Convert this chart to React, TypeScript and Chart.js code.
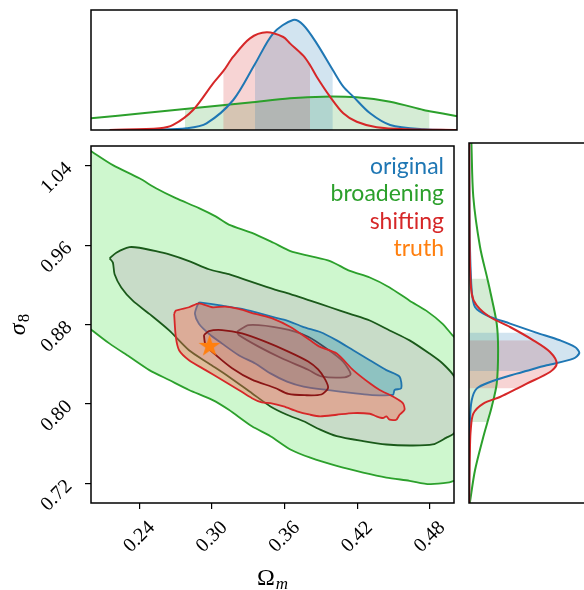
import React, { useEffect, useLayoutEffect, useRef } from "react";
import { Chart, registerables } from "chart.js";

Chart.register(...registerables);

// ---------------- tick labels ----------------
const xTickValues = [0.24, 0.3, 0.36, 0.42, 0.48];
const yTickValues = [0.72, 0.8, 0.88, 0.96, 1.04];

// ---------------- legend ----------------
const legendLabels = ["original", "broadening", "shifting", "truth"];
const legendColors = ["#1f77b4", "#2ca02c", "#d62728", "#ff7f0e"];

// ---------------- truth ----------------
const truthOmega = [0.298];
const truthSigma = [0.858];

// ---------------- 2D contours (Omega_m, sigma_8) ----------------
const green95Omega = [0.19, 0.2011, 0.2181, 0.24, 0.2537, 0.2701, 0.2892, 0.303, 0.3139, 0.333, 0.3508, 0.3648, 0.3812, 0.3976, 0.414, 0.4304, 0.4468, 0.4633, 0.477, 0.4906, 0.4988, 0.51, 0.515, 0.51, 0.5002, 0.4961, 0.4797, 0.4633, 0.4441, 0.4249, 0.4031, 0.3812, 0.3648, 0.3483, 0.333, 0.3139, 0.3002, 0.281, 0.2646, 0.2482, 0.2318, 0.2154, 0.2011, 0.19];
const green95Sigma = [1.063, 1.054, 1.0407, 1.0274, 1.0174, 1.0074, 0.9974, 0.989, 0.9807, 0.9724, 0.9624, 0.954, 0.949, 0.944, 0.934, 0.9274, 0.9174, 0.904, 0.894, 0.8807, 0.869, 0.855, 0.8, 0.722, 0.7224, 0.7207, 0.719, 0.7224, 0.7257, 0.7307, 0.7374, 0.7457, 0.754, 0.7674, 0.7774, 0.794, 0.804, 0.814, 0.824, 0.834, 0.8474, 0.8607, 0.874, 0.885];

const green68Omega = [0.2154, 0.2209, 0.2318, 0.24, 0.2537, 0.2646, 0.281, 0.2974, 0.3139, 0.3303, 0.3508, 0.3648, 0.3812, 0.3976, 0.414, 0.4304, 0.4468, 0.4633, 0.4797, 0.4906, 0.5002, 0.508, 0.5002, 0.4934, 0.4824, 0.4633, 0.4441, 0.4249, 0.4031, 0.3894, 0.3757, 0.362, 0.3483, 0.333, 0.3139, 0.2974, 0.281, 0.2646, 0.2482, 0.2345, 0.225, 0.2195, 0.2181];
const green68Sigma = [0.9467, 0.9524, 0.958, 0.9574, 0.954, 0.9507, 0.944, 0.9357, 0.9307, 0.924, 0.9157, 0.9107, 0.904, 0.8974, 0.8907, 0.884, 0.874, 0.864, 0.8507, 0.8407, 0.8274, 0.8, 0.7707, 0.7657, 0.759, 0.758, 0.759, 0.7624, 0.7674, 0.774, 0.7824, 0.789, 0.7974, 0.8107, 0.8274, 0.8407, 0.854, 0.874, 0.8907, 0.904, 0.9174, 0.9307, 0.9424];

const blue95Omega = [0.2894, 0.3084, 0.3248, 0.3358, 0.3508, 0.362, 0.3757, 0.3894, 0.4031, 0.4167, 0.4304, 0.4441, 0.455, 0.4564, 0.4509, 0.4495, 0.4304, 0.4167, 0.395, 0.3757, 0.362, 0.3483, 0.3358, 0.3221, 0.3084, 0.2974, 0.2892, 0.2859, 0.2878];
const blue95Sigma = [0.9024, 0.899, 0.8957, 0.8924, 0.8874, 0.884, 0.8774, 0.8724, 0.864, 0.854, 0.844, 0.834, 0.8274, 0.8157, 0.814, 0.809, 0.809, 0.8107, 0.814, 0.8174, 0.8224, 0.8307, 0.8407, 0.849, 0.8607, 0.8707, 0.8807, 0.8907, 0.899];

const blue68Omega = [0.3207, 0.3303, 0.3576, 0.3795, 0.3959, 0.4082, 0.4146, 0.4096, 0.3904, 0.3795, 0.3576, 0.3385, 0.3221];
const blue68Sigma = [0.8727, 0.8794, 0.876, 0.8677, 0.8547, 0.8427, 0.83, 0.8267, 0.8277, 0.8344, 0.846, 0.8577, 0.8694];

const red95Omega = [0.2687, 0.2701, 0.281, 0.2892, 0.3001, 0.3111, 0.3221, 0.3358, 0.3508, 0.3648, 0.3812, 0.3894, 0.4031, 0.4167, 0.4304, 0.4386, 0.4495, 0.4577, 0.4591, 0.455, 0.4523, 0.4468, 0.4441, 0.4413, 0.4359, 0.4304, 0.4167, 0.4031, 0.3894, 0.3812, 0.3702, 0.3592, 0.3483, 0.3412, 0.333, 0.3221, 0.3084, 0.2947, 0.281, 0.2728, 0.2701];
const red95Sigma = [0.8907, 0.894, 0.8974, 0.9014, 0.8974, 0.898, 0.8957, 0.8907, 0.8857, 0.8774, 0.864, 0.8574, 0.8507, 0.834, 0.8207, 0.814, 0.8074, 0.8007, 0.794, 0.789, 0.784, 0.784, 0.7874, 0.7857, 0.7874, 0.79, 0.7907, 0.789, 0.7874, 0.789, 0.7924, 0.7974, 0.8007, 0.8014, 0.8057, 0.814, 0.824, 0.834, 0.844, 0.854, 0.8674];

const red68Omega = [0.2933, 0.2974, 0.3083, 0.3248, 0.344, 0.3631, 0.3795, 0.3877, 0.3935, 0.3959, 0.3904, 0.3768, 0.3631, 0.3522, 0.333, 0.3166, 0.303, 0.2947];
const red68Sigma = [0.8694, 0.8734, 0.8744, 0.871, 0.8627, 0.8527, 0.8427, 0.8347, 0.8247, 0.816, 0.8094, 0.8087, 0.81, 0.816, 0.8244, 0.836, 0.8494, 0.8594];

// ---------------- top marginal: Omega_m density (relative) ----------------
const topBlueOmega = [0.2154, 0.2564, 0.2783, 0.2947, 0.3166, 0.3344, 0.3494, 0.3656, 0.374, 0.385, 0.3982, 0.4068, 0.415, 0.4288, 0.4452, 0.4725, 0.5];
const topBlueDens = [0, 0.003, 0.014, 0.056, 0.25, 0.55, 0.806, 0.917, 0.875, 0.722, 0.5, 0.361, 0.278, 0.139, 0.042, 0.006, 0];
const topRedOmega = [0.2154, 0.2564, 0.2673, 0.2837, 0.3001, 0.3084, 0.3166, 0.3303, 0.344, 0.3576, 0.3631, 0.374, 0.3796, 0.385, 0.3959, 0.4068, 0.4178, 0.4342, 0.4589, 0.5];
const topRedDens = [0, 0.014, 0.042, 0.167, 0.389, 0.49, 0.611, 0.764, 0.814, 0.775, 0.722, 0.62, 0.54, 0.444, 0.278, 0.139, 0.069, 0.023, 0.006, 0];
const topGreenOmega = [0.2, 0.2441, 0.2769, 0.2892, 0.3303, 0.3631, 0.3904, 0.4178, 0.4452, 0.4725, 0.4775, 0.4991, 0.5];
const topGreenDens = [0.097, 0.142, 0.175, 0.187, 0.229, 0.264, 0.278, 0.272, 0.236, 0.167, 0.157, 0.117, 0.115];
// 68% intervals on Omega_m
const topBlueBand = [0.3344, 0.3982];
const topRedBand = [0.3084, 0.3796];
const topGreenBand = [0.2769, 0.4775];

// ---------------- right marginal: sigma_8 density (relative) ----------------
const rightBlueSigma = [1.06, 1.0, 0.956, 0.9127, 0.896, 0.8877, 0.8794, 0.8704, 0.8627, 0.856, 0.85, 0.8444, 0.8377, 0.832, 0.8294, 0.821, 0.8144, 0.8027, 0.7827, 0.74, 0.7];
const rightBlueDens = [0.002, 0.004, 0.008, 0.0225, 0.05, 0.1475, 0.342, 0.56, 0.758, 0.883, 0.919, 0.869, 0.6475, 0.475, 0.3975, 0.175, 0.064, 0.0225, 0.008, 0.003, 0.002];
const rightRedSigma = [1.06, 0.98, 0.9394, 0.9094, 0.8977, 0.886, 0.876, 0.8627, 0.851, 0.8394, 0.831, 0.8194, 0.8144, 0.806, 0.7994, 0.7894, 0.7727, 0.756, 0.72, 0.7];
const rightRedDens = [0.002, 0.004, 0.008, 0.0225, 0.064, 0.175, 0.342, 0.536, 0.675, 0.731, 0.675, 0.481, 0.4, 0.258, 0.119, 0.036, 0.014, 0.008, 0.003, 0.002];
const rightGreenSigma = [1.06, 1.006, 0.956, 0.9244, 0.9127, 0.8794, 0.8527, 0.8194, 0.796, 0.781, 0.766, 0.7327, 0.701, 0.7];
const rightGreenDens = [0.02, 0.036, 0.092, 0.153, 0.175, 0.231, 0.2425, 0.231, 0.189, 0.154, 0.119, 0.05, 0.008, 0.007];
// 68% intervals on sigma_8
const rightBlueBand = [0.832, 0.8704];
const rightRedBand = [0.8144, 0.8627];
const rightGreenBand = [0.781, 0.9244];

// ---------------- fonts ----------------
const TICK_FONT = '20px "Liberation Serif"';
const LEGEND_FONT = '23px Lato';

type P = { x: number; y: number };
const closed = (xs: number[], ys: number[]): P[] => {
  const pts = xs.map((x, i) => ({ x, y: ys[i] }));
  pts.push({ ...pts[0] });
  return pts;
};
const pts = (xs: number[], ys: number[]): P[] => xs.map((x, i) => ({ x, y: ys[i] }));
const within = (p: P[], key: "x" | "y", band: number[]) =>
  p.filter((q) => q[key] >= band[0] - 1e-9 && q[key] <= band[1] + 1e-9);

function makeStar(color: string, R: number) {
  const c = document.createElement("canvas");
  const s = Math.ceil(R * 2 + 2);
  c.width = s;
  c.height = s;
  const g = c.getContext("2d")!;
  g.fillStyle = color;
  g.beginPath();
  for (let i = 0; i < 10; i++) {
    const r = i % 2 === 0 ? R : R * 0.382;
    const a = -Math.PI / 2 + (i * Math.PI) / 5;
    g.lineTo(s / 2 + r * Math.cos(a), s / 2 + r * Math.sin(a));
  }
  g.closePath();
  g.fill();
  return c;
}

const framePlugin = {
  id: "frame",
  afterDraw(chart: any) {
    const { ctx, chartArea: a } = chart;
    ctx.save();
    ctx.strokeStyle = "#000";
    ctx.lineWidth = 1.5;
    ctx.strokeRect(a.left, a.top, a.right - a.left, a.bottom - a.top);
    ctx.restore();
  },
};

const mainDecor = {
  id: "mainDecor",
  afterDraw(chart: any) {
    const { ctx, chartArea: a, scales } = chart;
    ctx.save();
    ctx.fillStyle = "#000";
    ctx.font = TICK_FONT;
    ctx.textAlign = "center";
    ctx.textBaseline = "middle";
    xTickValues.forEach((v) => {
      const px = scales.x.getPixelForValue(v);
      ctx.save();
      ctx.translate(px, a.bottom + 34);
      ctx.rotate(-Math.PI / 4);
      ctx.fillText(v.toFixed(2), 0, 0);
      ctx.restore();
    });
    ctx.textAlign = "right";
    yTickValues.forEach((v) => {
      const py = scales.y.getPixelForValue(v);
      ctx.save();
      ctx.translate(a.left - 22, py);
      ctx.rotate(-Math.PI / 4);
      ctx.fillText(v.toFixed(2), 0, 0);
      ctx.restore();
    });
    // x title: Omega_m
    ctx.textAlign = "left";
    ctx.textBaseline = "alphabetic";
    ctx.font = '24px "Liberation Serif"';
    const w1 = ctx.measureText("Ω").width;
    ctx.font = 'italic 17px "Liberation Serif"';
    const w2 = ctx.measureText("m").width;
    const cx = (a.left + a.right) / 2;
    const x0 = cx - (w1 + w2 + 1) / 2;
    const base = a.bottom + 82;
    ctx.font = '24px "Liberation Serif"';
    ctx.fillText("Ω", x0, base);
    ctx.font = 'italic 17px "Liberation Serif"';
    ctx.fillText("m", x0 + w1 + 1, base + 4);
    // y title: sigma_8
    ctx.save();
    const cy = (a.top + a.bottom) / 2;
    ctx.translate(a.left - 66, cy);
    ctx.rotate(-Math.PI / 2);
    ctx.font = 'italic 24px "Liberation Serif"';
    const s1 = ctx.measureText("σ").width;
    ctx.font = '17px "Liberation Serif"';
    const s2 = ctx.measureText("8").width;
    const sx0 = -(s1 + s2 + 1) / 2;
    ctx.font = 'italic 24px "Liberation Serif"';
    ctx.fillText("σ", sx0, 0);
    ctx.font = '17px "Liberation Serif"';
    ctx.fillText("8", sx0 + s1 + 1, 4);
    ctx.restore();
    // legend
    ctx.font = LEGEND_FONT;
    ctx.textAlign = "right";
    ctx.textBaseline = "alphabetic";
    legendLabels.forEach((t, i) => {
      ctx.fillStyle = legendColors[i];
      ctx.fillText(t, a.right - 10, a.top + 28 + i * 27.3);
    });
    ctx.restore();
  },
};

function contour(data: P[], fill: string, edge: string, order: number) {
  return {
    data,
    fill: "shape",
    backgroundColor: fill,
    borderColor: edge,
    borderWidth: 1.8,
    pointRadius: 0,
    tension: 0.25,
    order,
  };
}

export default function App() {
  const topRef = useRef<HTMLCanvasElement>(null);
  const mainRef = useRef<HTMLCanvasElement>(null);
  const rightRef = useRef<HTMLCanvasElement>(null);

  useLayoutEffect(() => {
    const prev = document.body.style.margin;
    document.body.style.margin = "0";
    return () => {
      document.body.style.margin = prev;
    };
  }, []);

  useEffect(() => {
    const common = {
      animation: false as const,
      responsive: false,
      events: [] as any[],
      plugins: { legend: { display: false }, tooltip: { enabled: false } },
    };
    const star = makeStar("#ff7f0e", 11.5);

    const main = new Chart(mainRef.current!, {
      type: "line",
      data: {
        datasets: [
          contour(closed(green95Omega, green95Sigma), "rgba(150,238,150,0.47)", "#2ca02c", 10),
          contour(closed(green68Omega, green68Sigma), "#c8dcc8", "#1a5a1a", 9),
          contour(closed(blue95Omega, blue95Sigma), "rgba(40,150,180,0.36)", "#1f74ad", 8),
          contour(closed(blue68Omega, blue68Sigma), "rgba(40,60,90,0.15)", "#39495a", 7),
          contour(closed(red95Omega, red95Sigma), "rgba(250,100,80,0.4)", "#d62728", 6),
          contour(closed(red68Omega, red68Sigma), "rgba(130,20,20,0.1)", "#8a1515", 5),
          {
            data: pts(truthOmega, truthSigma),
            showLine: false,
            pointStyle: star as any,
            pointRadius: 10,
            order: 0,
          } as any,
        ] as any,
      },
      options: {
        ...common,
        layout: { padding: { left: 0, right: 8, top: 8, bottom: 0 } },
        scales: {
          x: {
            type: "linear",
            min: 0.2,
            max: 0.5,
            border: { display: false },
            grid: { display: true, drawOnChartArea: false, drawTicks: true, tickLength: 6, color: "#000", lineWidth: 1.2 },
            ticks: { display: false },
            afterBuildTicks: (s: any) => {
              s.ticks = xTickValues.map((v) => ({ value: v }));
            },
            afterFit: (s: any) => {
              s.height = 87;
              s.paddingLeft = 0;
              s.paddingRight = 0;
            },
          },
          y: {
            type: "linear",
            min: 0.7,
            max: 1.06,
            border: { display: false },
            grid: { display: true, drawOnChartArea: false, drawTicks: true, tickLength: 6, color: "#000", lineWidth: 1.2 },
            ticks: { display: false },
            afterBuildTicks: (s: any) => {
              s.ticks = yTickValues.map((v) => ({ value: v }));
            },
            afterFit: (s: any) => {
              s.width = 83;
              s.paddingTop = 0;
              s.paddingBottom = 0;
            },
          },
        },
      } as any,
      plugins: [framePlugin, mainDecor],
    });

    const tb = pts(topBlueOmega, topBlueDens);
    const tr = pts(topRedOmega, topRedDens);
    const tg = pts(topGreenOmega, topGreenDens);
    const curveDs = (data: P[], color: string, order: number) => ({
      data, borderColor: color, borderWidth: 2, pointRadius: 0, fill: false, tension: 0.3, order,
    });
    const bandDs = (data: P[], color: string, order: number) => ({
      data, borderColor: "transparent", backgroundColor: color, borderWidth: 1, pointRadius: 0, fill: "origin", tension: 0.3, order,
    });

    const top = new Chart(topRef.current!, {
      type: "line",
      data: {
        datasets: [
          bandDs(within(tg, "x", topGreenBand), "rgba(44,160,44,0.2)", 6),
          bandDs(within(tr, "x", topRedBand), "rgba(214,39,40,0.2)", 5),
          bandDs(within(tb, "x", topBlueBand), "rgba(31,119,180,0.2)", 4),
          curveDs(tg, "#2ca02c", 3),
          curveDs(tb, "#1f77b4", 2),
          curveDs(tr, "#d62728", 1),
        ] as any,
      },
      options: {
        ...common,
        layout: { padding: { left: 83, right: 8, top: 2, bottom: 5 } },
        scales: {
          x: { type: "linear", min: 0.2, max: 0.5, display: false },
          y: { type: "linear", min: 0, max: 1, display: false },
        },
      } as any,
      plugins: [framePlugin],
    });

    const rb = pts(rightBlueDens, rightBlueSigma);
    const rr = pts(rightRedDens, rightRedSigma);
    const rg = pts(rightGreenDens, rightGreenSigma);
    const right = new Chart(rightRef.current!, {
      type: "line",
      data: {
        datasets: [
          bandDs(within(rg, "y", rightGreenBand), "rgba(44,160,44,0.2)", 6),
          bandDs(within(rr, "y", rightRedBand), "rgba(214,39,40,0.2)", 5),
          bandDs(within(rb, "y", rightBlueBand), "rgba(31,119,180,0.2)", 4),
          curveDs(rg, "#2ca02c", 3),
          curveDs(rb, "#1f77b4", 2),
          curveDs(rr, "#d62728", 1),
        ] as any,
      },
      options: {
        ...common,
        indexAxis: "y",
        layout: { padding: { left: 4, right: 6, top: 8, bottom: 7 } },
        scales: {
          x: { type: "linear", min: 0, max: 1, display: false },
          y: { type: "linear", min: 0.7, max: 1.06, display: false },
        },
      } as any,
      plugins: [framePlugin],
    });

    return () => {
      main.destroy();
      top.destroy();
      right.destroy();
    };
  }, []);

  return (
    <div style={{ position: "relative", width: 584, height: 590, overflow: "hidden" }}>
      <canvas ref={topRef} width={457} height={127} style={{ position: "absolute", left: 8, top: 8, width: 457, height: 127 }} />
      <canvas ref={mainRef} width={457} height={455} style={{ position: "absolute", left: 8, top: 135, width: 457, height: 455 }} />
      <canvas ref={rightRef} width={130} height={375} style={{ position: "absolute", left: 465, top: 135, width: 130, height: 375 }} />
    </div>
  );
}
